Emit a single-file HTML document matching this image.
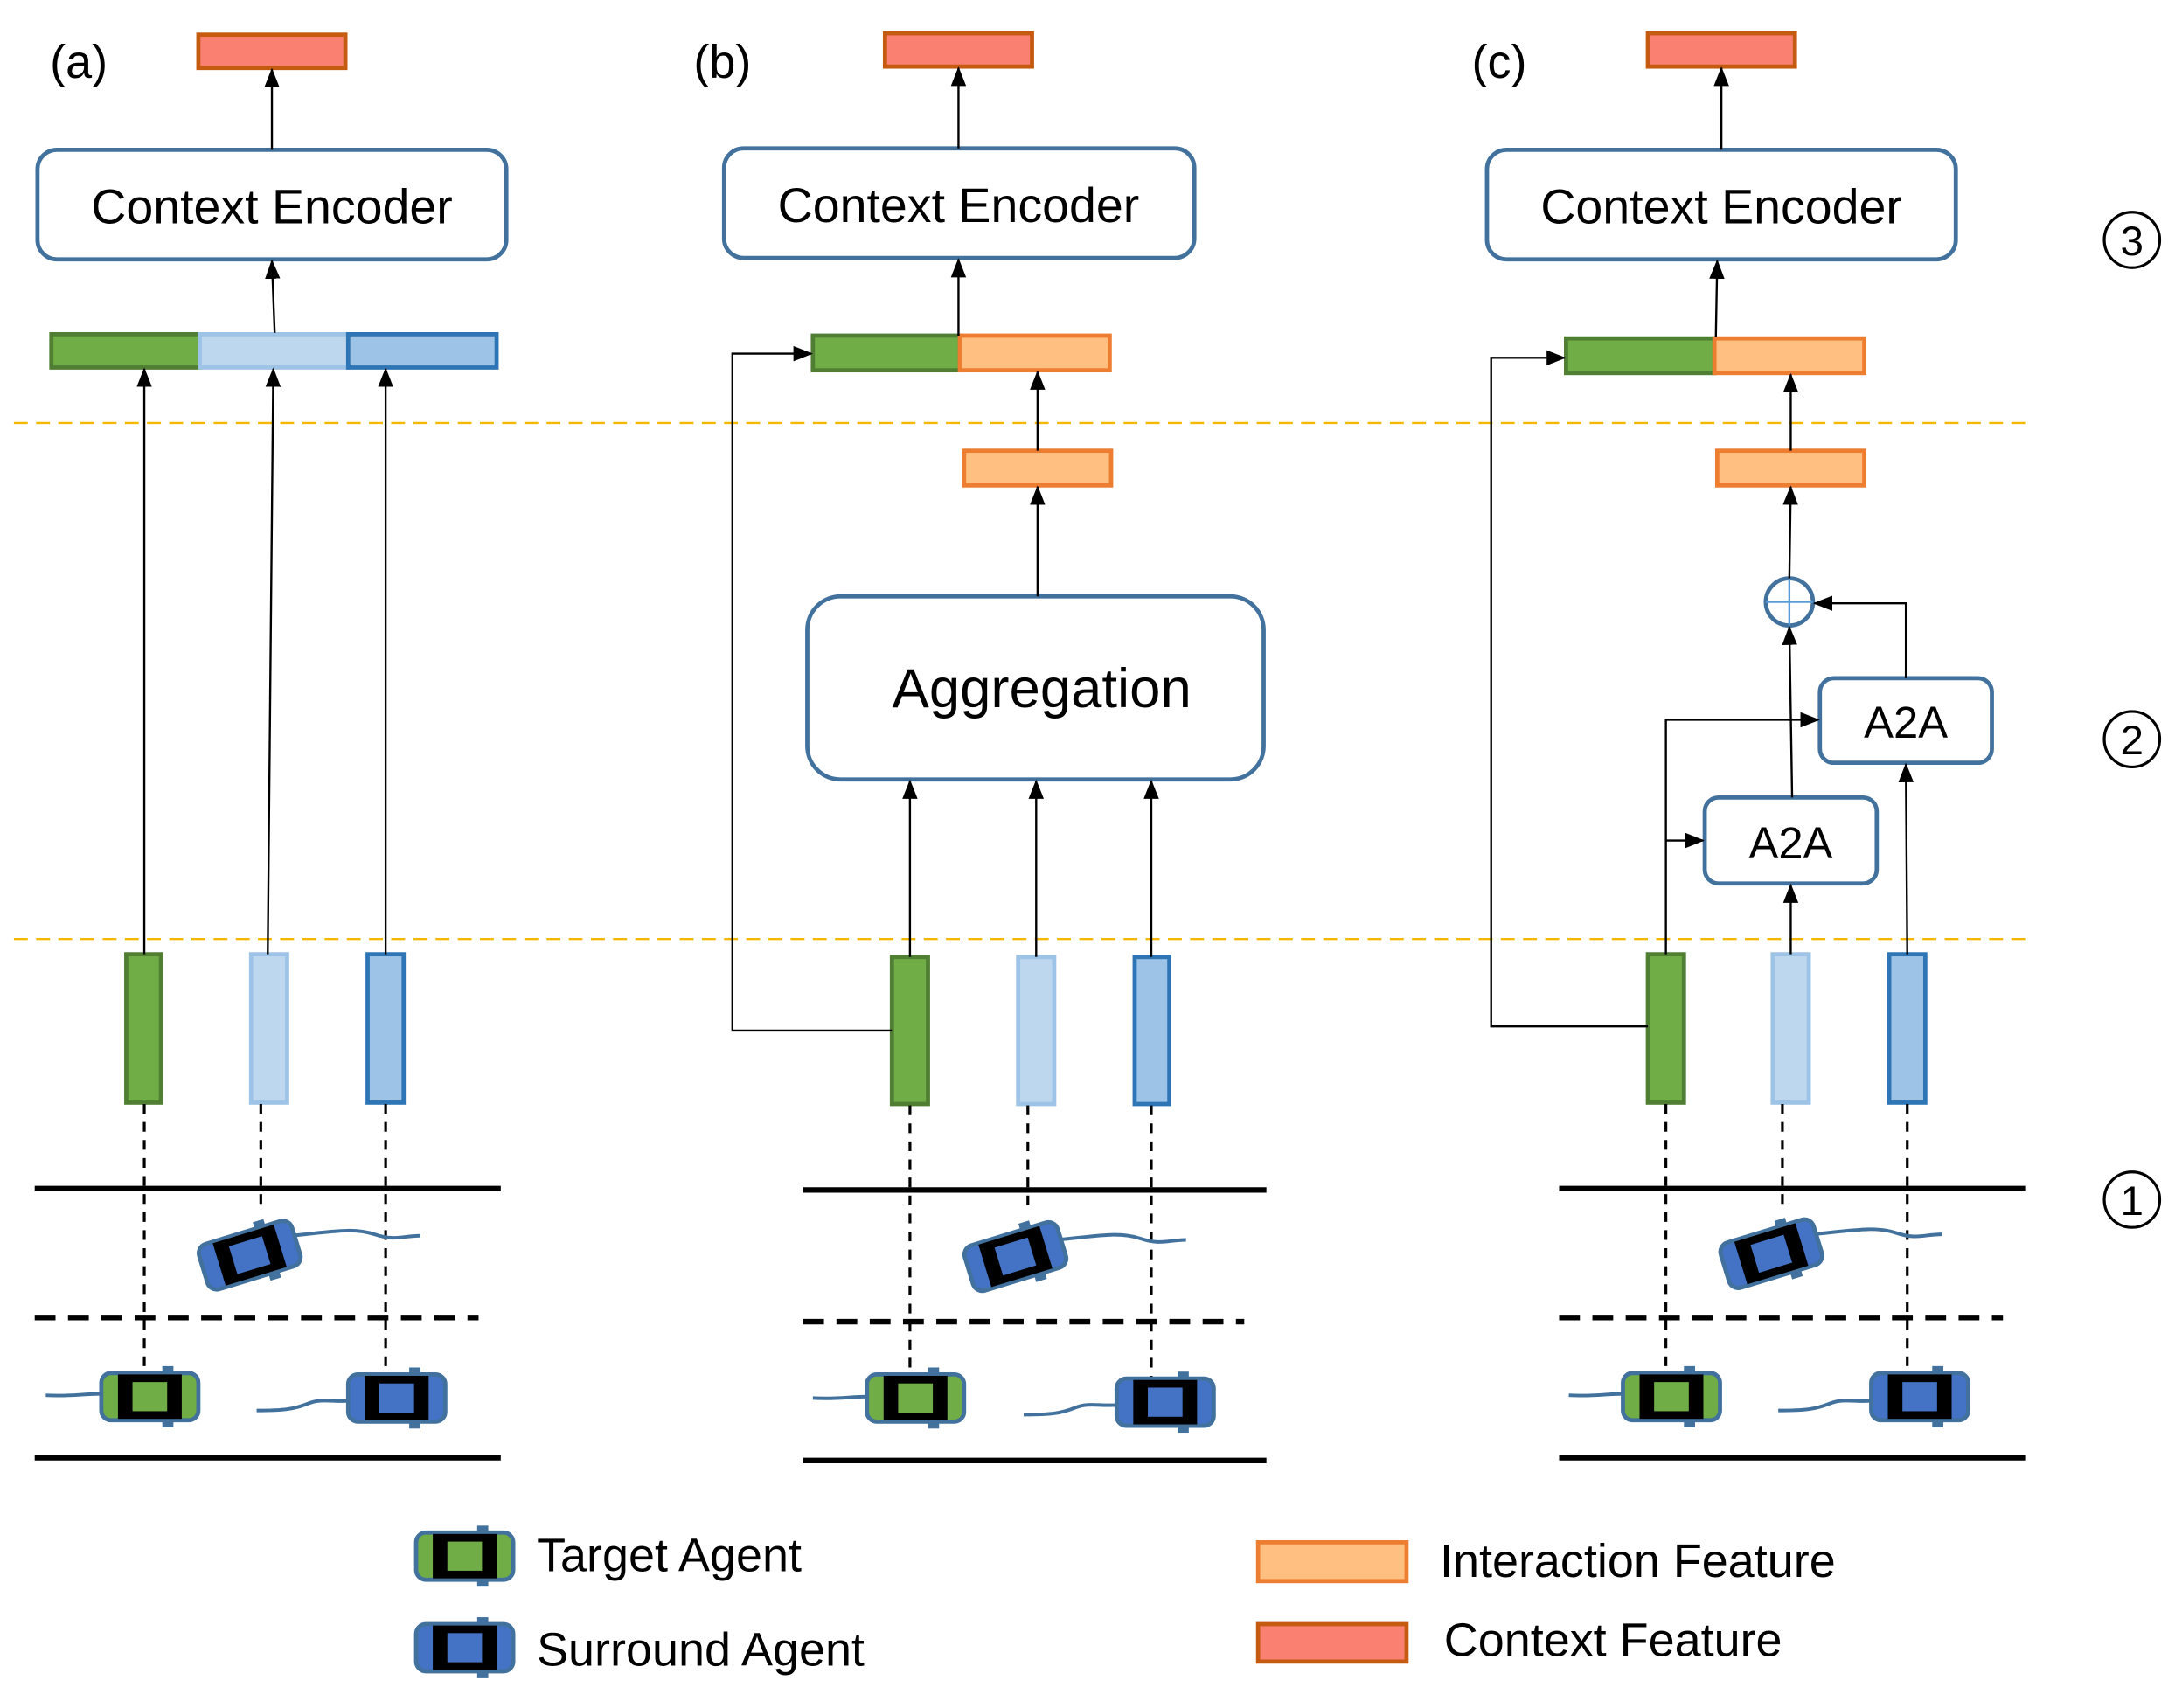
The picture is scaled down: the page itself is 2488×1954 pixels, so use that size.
<!DOCTYPE html>
<html><head><meta charset="utf-8"><style>
html,body{margin:0;padding:0;background:#fff;overflow:hidden;}
svg{display:block;}
text{font-family:"Liberation Sans","DejaVu Sans",sans-serif;fill:#000;}
</style></head><body>
<svg width="2488" height="1954" viewBox="0 0 1568 1231.5" xmlns="http://www.w3.org/2000/svg">
<defs>
<marker id="ar" markerWidth="14" markerHeight="14" refX="13" refY="7" orient="auto" markerUnits="userSpaceOnUse"><path d="M0,1.5 L14,7 L0,12.5 z" fill="#000"/></marker>
<g id="carG">
<rect x="9" y="-22" width="8" height="7" fill="#41719c"/><rect x="9" y="15" width="8" height="7" fill="#41719c"/>
<rect x="-35" y="-17" width="70" height="34" rx="7" fill="#70ad47" stroke="#41719c" stroke-width="3"/>
<rect x="-23" y="-16" width="46" height="32" fill="#000"/>
<rect x="-12.5" y="-10.5" width="25" height="21" fill="#70ad47"/>
</g>
<g id="carB">
<rect x="9" y="-22" width="8" height="7" fill="#41719c"/><rect x="9" y="15" width="8" height="7" fill="#41719c"/>
<rect x="-35" y="-17" width="70" height="34" rx="7" fill="#4472c4" stroke="#41719c" stroke-width="3"/>
<rect x="-23" y="-16" width="46" height="32" fill="#000"/>
<rect x="-12.5" y="-10.5" width="25" height="21" fill="#4472c4"/>
</g>
</defs>
<g stroke="#000" stroke-width="1.5" fill="none">
<line x1="10" y1="305" x2="1460" y2="305" stroke="#f5b800" stroke-dasharray="10,6"/>
<line x1="10" y1="677" x2="1460" y2="677" stroke="#f5b800" stroke-dasharray="10,6"/>
</g>
<!-- (a) -->
<text x="36" y="56" font-size="34">(a)</text>
<rect x="143" y="25" width="106" height="24" fill="#fa8072" stroke="#c55a11" stroke-width="3"/>
<rect x="27" y="108" width="338" height="79" rx="14" fill="#fff" stroke="#41719c" stroke-width="3"/>
<text x="196" y="161" font-size="35" text-anchor="middle">Context Encoder</text>
<rect x="37" y="241" width="107" height="24" fill="#70ad47" stroke="#507e32" stroke-width="3"/>
<rect x="144" y="241" width="107" height="24" fill="#bdd7ee" stroke="#9dc3e6" stroke-width="3"/>
<rect x="251" y="241" width="107" height="24" fill="#9dc3e6" stroke="#2e75b6" stroke-width="3"/>
<rect x="91" y="688" width="25" height="107" fill="#70ad47" stroke="#507e32" stroke-width="3"/>
<rect x="181" y="688" width="26" height="107" fill="#bdd7ee" stroke="#9dc3e6" stroke-width="3"/>
<rect x="265" y="688" width="26" height="107" fill="#9dc3e6" stroke="#2e75b6" stroke-width="3"/>
<g stroke="#000" stroke-width="1.5" fill="none" marker-end="url(#ar)">
<line x1="196" y1="108" x2="196" y2="50"/>
<line x1="198" y1="240" x2="196" y2="188"/>
<line x1="104" y1="688" x2="104" y2="266"/>
<line x1="193" y1="688" x2="197" y2="266"/>
<line x1="278" y1="688" x2="278" y2="266"/>
</g>
<!-- (b) -->
<text x="500" y="56" font-size="34">(b)</text>
<rect x="638" y="24" width="106" height="24" fill="#fa8072" stroke="#c55a11" stroke-width="3"/>
<rect x="522" y="107" width="339" height="79" rx="14" fill="#fff" stroke="#41719c" stroke-width="3"/>
<text x="691" y="160" font-size="35" text-anchor="middle">Context Encoder</text>
<rect x="586" y="242" width="106" height="25" fill="#70ad47" stroke="#507e32" stroke-width="3"/>
<rect x="692" y="242" width="108" height="25" fill="#ffbf80" stroke="#ed7d31" stroke-width="3"/>
<rect x="695" y="325" width="106" height="25" fill="#ffbf80" stroke="#ed7d31" stroke-width="3"/>
<rect x="582" y="430" width="329" height="132" rx="24" fill="#fff" stroke="#41719c" stroke-width="3"/>
<text x="751" y="510" font-size="40" text-anchor="middle">Aggregation</text>
<rect x="643" y="690" width="26" height="106" fill="#70ad47" stroke="#507e32" stroke-width="3"/>
<rect x="734" y="690" width="26" height="106" fill="#bdd7ee" stroke="#9dc3e6" stroke-width="3"/>
<rect x="818" y="690" width="25" height="106" fill="#9dc3e6" stroke="#2e75b6" stroke-width="3"/>
<g stroke="#000" stroke-width="1.5" fill="none" marker-end="url(#ar)">
<line x1="691" y1="107" x2="691" y2="49"/>
<line x1="691" y1="242" x2="691" y2="187"/>
<line x1="748" y1="325" x2="748" y2="268"/>
<line x1="748" y1="430" x2="748" y2="351"/>
<line x1="656" y1="690" x2="656" y2="563"/>
<line x1="747" y1="690" x2="747" y2="563"/>
<line x1="830" y1="690" x2="830" y2="563"/>
<polyline points="643,743 528,743 528,255 585,255"/>
</g>
<!-- (c) -->
<text x="1061" y="56" font-size="34">(c)</text>
<rect x="1188" y="24" width="106" height="24" fill="#fa8072" stroke="#c55a11" stroke-width="3"/>
<rect x="1072" y="108" width="338" height="79" rx="14" fill="#fff" stroke="#41719c" stroke-width="3"/>
<text x="1241" y="161" font-size="35" text-anchor="middle">Context Encoder</text>
<rect x="1129" y="244" width="107" height="25" fill="#70ad47" stroke="#507e32" stroke-width="3"/>
<rect x="1236" y="244" width="108" height="25" fill="#ffbf80" stroke="#ed7d31" stroke-width="3"/>
<rect x="1238" y="325" width="106" height="25" fill="#ffbf80" stroke="#ed7d31" stroke-width="3"/>
<circle cx="1290" cy="434" r="17" fill="#fff" stroke="#41719c" stroke-width="3"/>
<line x1="1273" y1="434" x2="1307" y2="434" stroke="#5b9bd5" stroke-width="1.5"/>
<line x1="1290" y1="417" x2="1290" y2="451" stroke="#5b9bd5" stroke-width="1.5"/>
<rect x="1312" y="489" width="124" height="61" rx="10" fill="#fff" stroke="#41719c" stroke-width="3"/>
<text x="1374" y="532" font-size="32" text-anchor="middle">A2A</text>
<rect x="1229" y="575" width="124" height="62" rx="10" fill="#fff" stroke="#41719c" stroke-width="3"/>
<text x="1291" y="619" font-size="32" text-anchor="middle">A2A</text>
<rect x="1188" y="688" width="26" height="107" fill="#70ad47" stroke="#507e32" stroke-width="3"/>
<rect x="1278" y="688" width="26" height="107" fill="#bdd7ee" stroke="#9dc3e6" stroke-width="3"/>
<rect x="1362" y="688" width="26" height="107" fill="#9dc3e6" stroke="#2e75b6" stroke-width="3"/>
<g stroke="#000" stroke-width="1.5" fill="none" marker-end="url(#ar)">
<line x1="1241" y1="108" x2="1241" y2="49"/>
<line x1="1237" y1="243" x2="1238" y2="188"/>
<line x1="1291" y1="325" x2="1291" y2="270"/>
<line x1="1290" y1="417" x2="1291" y2="351"/>
<line x1="1292" y1="575" x2="1290" y2="452"/>
<polyline points="1374,489 1374,435 1308,435"/>
<line x1="1291" y1="688" x2="1291" y2="638"/>
<line x1="1375" y1="688" x2="1374" y2="551"/>
<polyline points="1201,688 1201,519 1311,519"/>
<line x1="1201" y1="606" x2="1228" y2="606"/>
<polyline points="1188,740 1075,740 1075,258 1128,258"/>
</g>
<!-- roads -->
<g stroke="#000" stroke-width="4">
<line x1="25" y1="857" x2="361" y2="857"/><line x1="25" y1="1051" x2="361" y2="1051"/>
<line x1="25" y1="950" x2="345" y2="950" stroke-dasharray="15,9"/>
<line x1="579" y1="858" x2="913" y2="858"/><line x1="579" y1="1053" x2="913" y2="1053"/>
<line x1="579" y1="953" x2="897" y2="953" stroke-dasharray="15,9"/>
<line x1="1124" y1="857" x2="1460" y2="857"/><line x1="1124" y1="1051" x2="1460" y2="1051"/>
<line x1="1124" y1="950" x2="1444" y2="950" stroke-dasharray="15,9"/>
</g>
<g stroke="#000" stroke-width="2" stroke-dasharray="7,6">
<line x1="104" y1="796" x2="104" y2="988"/><line x1="188" y1="796" x2="188" y2="872"/><line x1="278" y1="796" x2="278" y2="990"/>
<line x1="656" y1="797" x2="656" y2="990"/><line x1="741" y1="797" x2="741" y2="875"/><line x1="830" y1="797" x2="830" y2="993"/>
<line x1="1201" y1="796" x2="1201" y2="988"/><line x1="1285" y1="796" x2="1285" y2="872"/><line x1="1375" y1="796" x2="1375" y2="990"/>
</g>
<g stroke="#41719c" stroke-width="2.5" fill="none">
<path d="M210,891 C240,888 255,885 270,890 C285,895 290,891 303,891"/>
<path d="M33,1006 C50,1007 60,1005 72,1005"/>
<path d="M185,1017 C205,1017 212,1016 222,1012 C232,1008 240,1011 252,1010"/>
<path d="M762,894 C792,891 807,888 822,893 C837,898 842,894 855,894"/>
<path d="M586,1008 C603,1009 613,1007 625,1007"/>
<path d="M738,1020 C758,1020 765,1019 775,1015 C785,1011 793,1014 805,1013"/>
<path d="M1307,890 C1337,887 1352,884 1367,889 C1382,894 1387,890 1400,890"/>
<path d="M1131,1006 C1148,1007 1158,1005 1170,1005"/>
<path d="M1282,1017 C1302,1017 1309,1016 1319,1012 C1329,1008 1337,1011 1349,1010"/>
</g>
<use href="#carB" transform="translate(180,905) rotate(-17)"/>
<use href="#carG" transform="translate(108,1007)"/>
<use href="#carB" transform="translate(286,1008)"/>
<use href="#carB" transform="translate(732,906) rotate(-17)"/>
<use href="#carG" transform="translate(660,1008)"/>
<use href="#carB" transform="translate(840,1011)"/>
<use href="#carB" transform="translate(1277,904) rotate(-17)"/>
<use href="#carG" transform="translate(1205,1007)"/>
<use href="#carB" transform="translate(1384,1007)"/>
<g fill="none" stroke="#000" stroke-width="2">
<circle cx="1537" cy="173" r="20"/><circle cx="1537" cy="533" r="20"/><circle cx="1537" cy="865" r="20"/>
</g>
<text x="1537" y="184" font-size="30" text-anchor="middle">3</text>
<text x="1537" y="544" font-size="30" text-anchor="middle">2</text>
<text x="1537" y="876" font-size="30" text-anchor="middle">1</text>
<use href="#carG" transform="translate(335,1122)"/>
<use href="#carB" transform="translate(335,1188)"/>
<text x="387" y="1133" font-size="34">Target Agent</text>
<text x="387" y="1201" font-size="34">Surround Agent</text>
<rect x="907" y="1112" width="107" height="28" fill="#ffbf80" stroke="#ed7d31" stroke-width="3"/>
<rect x="907" y="1171" width="107" height="27" fill="#fa8072" stroke="#c55a11" stroke-width="3"/>
<text x="1038" y="1137" font-size="34">Interaction Feature</text>
<text x="1041" y="1194" font-size="34">Context Feature</text>
</svg>
</body></html>
